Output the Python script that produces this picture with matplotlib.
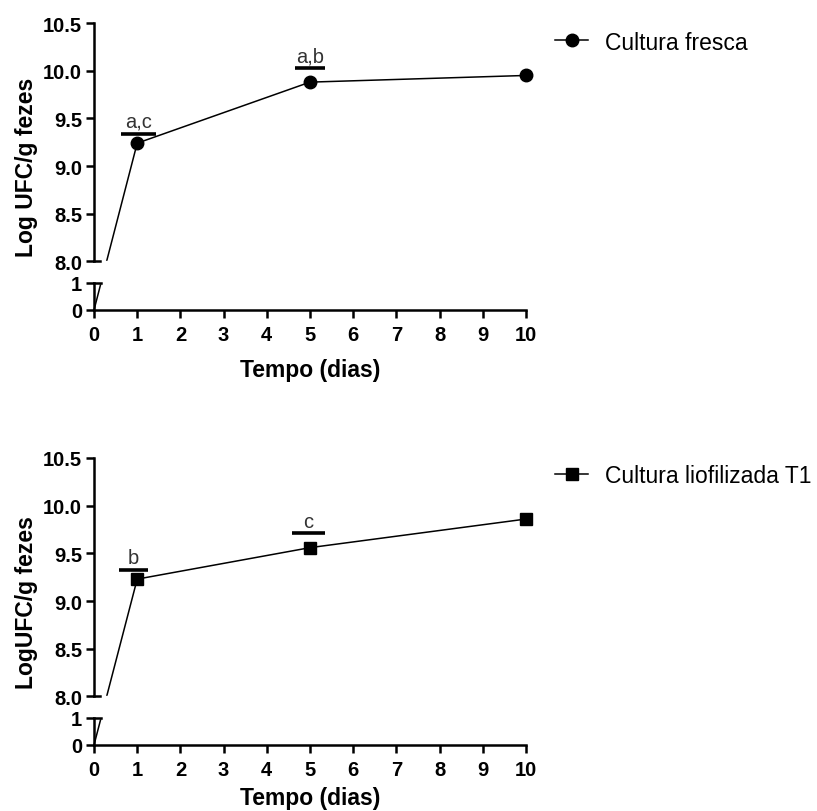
import numpy as np
import matplotlib.pyplot as plt
from matplotlib.lines import Line2D

plt.rcParams['font.family'] = ['Liberation Sans', 'DejaVu Sans']

dias = [0, 1, 5, 10]
fresca = [0, 9.24, 9.88, 9.95]
liofilizada = [0, 9.23, 9.56, 9.86]

yticks = [0, 1, 8, 8.5, 9, 9.5, 10, 10.5]
yticklabels = ['0', '1', '8.0', '8.5', '9.0', '9.5', '10.0', '10.5']
xticks = list(range(11))

# barras de significância: altura, início, fim, letras
fresca_sig_y = [9.34, 10.03]
fresca_sig_x0 = [0.62, 4.65]
fresca_sig_x1 = [1.44, 5.35]
fresca_sig_txt = ['a,c', 'a,b']

lio_sig_y = [9.33, 9.71]
lio_sig_x0 = [0.59, 4.58]
lio_sig_x1 = [1.25, 5.35]
lio_sig_txt = ['b', 'c']

# eixo y quebrado (0-1 | 8-10.5), escala linear por partes
xp = [-100, 0, 1, 8, 10.5, 110]
fp = [-2700, 0, 27, 48.5, 286.5, 286.5 + 99.5 * 95.2]


def fwd(y):
    return np.interp(y, xp, fp)


def inv(t):
    return np.interp(t, fp, xp)


def painel(ax, y, marker, sig_y, sig_x0, sig_x1, sig_txt, ylabel, legenda, leg_y, xpad):
    ax.set_yscale('function', functions=(fwd, inv))
    ax.set_xlim(0, 10)
    ax.set_ylim(0, 10.5)

    ax.plot(dias, y, color='k', lw=1.1, clip_on=False, zorder=2)
    ax.plot(dias[1:], y[1:], ls='none', marker=marker, ms=9, color='k',
            clip_on=False, zorder=4)
    # esconde a linha na quebra
    ax.axhspan(1, 8, color='white', zorder=3)

    for s in ['top', 'right', 'left']:
        ax.spines[s].set_visible(False)
    ax.spines['bottom'].set_linewidth(1.8)

    tr = ax.get_yaxis_transform()
    ax.plot([0, 0], [0, 1], transform=tr, color='k', lw=1.8, clip_on=False, zorder=5)
    ax.plot([0, 0], [8, 10.5], transform=tr, color='k', lw=1.8, clip_on=False, zorder=5)
    ax.plot([0, 0.014], [8, 8], transform=tr, color='k', lw=1.8, clip_on=False, zorder=5)
    ax.plot([0, 0.016], [1, 1], transform=tr, color='k', lw=1.8, clip_on=False, zorder=5)

    ax.set_yticks(yticks, yticklabels, fontweight='bold')
    ax.set_xticks(xticks, [str(t) for t in xticks], fontweight='bold')
    ax.minorticks_off()
    ax.tick_params(direction='out', length=5.5, width=1.8, labelsize=14.5, pad=3)
    ax.tick_params(axis='x', length=6, pad=5)

    for yy, a, b, t in zip(sig_y, sig_x0, sig_x1, sig_txt):
        ax.hlines(yy, a, b, color='k', lw=2.6, zorder=4)
        ax.text((a + b) / 2, yy + 0.07, t, ha='center', va='baseline',
                fontsize=14.5, color='#333333')

    ax.set_xlabel('Tempo (dias)', fontsize=16.5, fontweight='bold', labelpad=xpad)
    ax.set_ylabel(ylabel, fontsize=16.5, fontweight='bold', labelpad=4)

    h = Line2D([], [], color='k', lw=1.1, marker=marker, ms=9)
    ax.figure.legend([h], [legenda], loc='center left',
                     bbox_to_anchor=(555 / 817, 1 - leg_y / 812),
                     frameon=False, fontsize=16.5, handlelength=1.45,
                     handletextpad=0.75, borderpad=0, borderaxespad=0)


fig = plt.figure(figsize=(8.17, 8.12), dpi=100)
ax1 = fig.add_axes([94 / 817, 1 - 311 / 812, 432 / 817, 287 / 812])
ax2 = fig.add_axes([94 / 817, 1 - 746 / 812, 432 / 817, 287 / 812])

painel(ax1, fresca, 'o', fresca_sig_y, fresca_sig_x0, fresca_sig_x1, fresca_sig_txt,
       'Log UFC/g fezes', 'Cultura fresca', 43, 10)
painel(ax2, liofilizada, 's', lio_sig_y, lio_sig_x0, lio_sig_x1, lio_sig_txt,
       'LogUFC/g fezes', 'Cultura liofilizada T1', 477, 5)

fig.savefig('out.png', dpi=100)
